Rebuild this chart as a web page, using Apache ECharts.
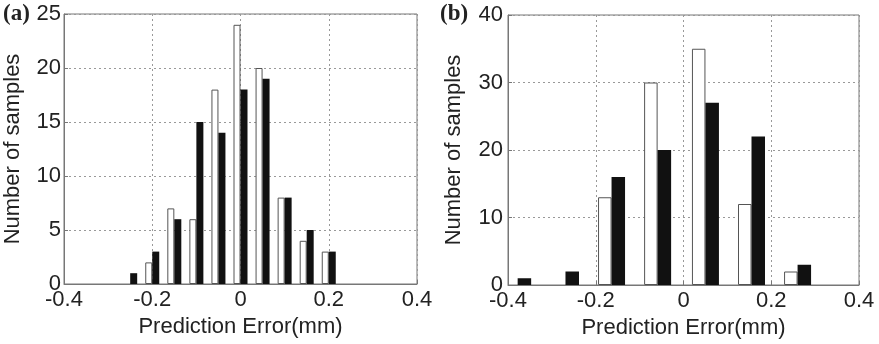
<!DOCTYPE html>
<html>
<head>
<meta charset="utf-8">
<script src="https://cdn.jsdelivr.net/npm/echarts@6/dist/echarts.min.js"></script>
<style>html,body{margin:0;padding:0;background:#fff;}#c{width:879px;height:344px;}</style>
</head>
<body>
<div id="c"></div>
<script>
// ---- data ----
const binCentersA = [-0.25, -0.2, -0.15, -0.1, -0.05, 0, 0.05, 0.1, 0.15, 0.2];
const whiteA = [0, 2, 7, 6, 18, 24, 20, 8, 4, 3];
const blackA = [1, 3, 6, 15, 14, 18, 19, 8, 5, 3];

const binCentersB = [-0.378, -0.269, -0.164, -0.059, 0.05, 0.155, 0.26];
const whiteB = [0, 0, 13, 30, 35, 12, 2];
const blackB = [1, 2, 16, 20, 27, 22, 3];

const xTickValues = [-0.4, -0.2, 0, 0.2, 0.4];
const xTickLabels = ['-0.4', '-0.2', '0', '0.2', '0.4'];
const yTicksA = [0, 5, 10, 15, 20, 25];
const yTicksB = [0, 10, 20, 30, 40];
const panelLabels = ['(a)', '(b)'];
const xTitle = 'Prediction Error(mm)';
const yTitle = 'Number of samples';

// ---- chart ----
const FONT = '"Liberation Sans", Arial, sans-serif';
const FS = 22;
const chart = echarts.init(document.getElementById('c'), null, {renderer: 'canvas'});

// empty bins (count 0) are not drawn as a rectangle
function pairs(xs, ys) { return xs.map((x, i) => [x, ys[i] === 0 ? '-' : ys[i]]); }
function xLabelFmt(v) {
  for (let i = 0; i < xTickValues.length; i++) if (Math.abs(v - xTickValues[i]) < 1e-9) return xTickLabels[i];
  return '';
}

function xAxis(gi, nameGap) {
  return {
    gridIndex: gi, type: 'value', min: -0.4, max: 0.4, interval: 0.2,
    name: xTitle, nameLocation: 'middle', nameGap: nameGap,
    nameTextStyle: {fontFamily: FONT, fontSize: FS, color: '#222'},
    axisLine: {show: true, onZero: false, lineStyle: {color: '#777', width: 1}},
    axisTick: {show: true, inside: true, length: 4, lineStyle: {color: '#777'}},
    axisLabel: {fontFamily: FONT, fontSize: FS, color: '#222', margin: 5, formatter: xLabelFmt},
    splitLine: {show: true, lineStyle: {color: '#999', type: [2, 3], width: 1}}
  };
}
function yAxis(gi, max, interval, nameGap, margin) {
  return {
    gridIndex: gi, type: 'value', min: 0, max: max, interval: interval,
    name: yTitle, nameLocation: 'middle', nameGap: nameGap,
    nameTextStyle: {fontFamily: FONT, fontSize: FS, color: '#222'},
    axisLine: {show: true, onZero: false, lineStyle: {color: '#777', width: 1}},
    axisTick: {show: true, inside: true, length: 4, lineStyle: {color: '#777'}},
    axisLabel: {fontFamily: FONT, fontSize: FS, color: '#222', margin: margin},
    splitLine: {show: true, lineStyle: {color: '#999', type: [2, 3], width: 1}}
  };
}
function barSeries(gi, xs, ys, white, w) {
  return {
    type: 'bar', xAxisIndex: gi, yAxisIndex: gi,
    data: pairs(xs, ys), barWidth: w, barGap: '0%',
    itemStyle: white ? {color: '#fff', borderColor: '#555', borderWidth: 1}
                     : {color: '#111', borderColor: '#111', borderWidth: 0},
    animation: false, silent: true
  };
}

chart.setOption({
  animation: false,
  backgroundColor: '#fff',
  grid: [
    {left: 64, top: 14, width: 353, height: 270, show: true, borderColor: '#777', borderWidth: 1, backgroundColor: 'transparent'},
    {left: 508, top: 15, width: 351, height: 270, show: true, borderColor: '#777', borderWidth: 1, backgroundColor: 'transparent'}
  ],
  xAxis: [xAxis(0, 31), xAxis(1, 31)],
  yAxis: [yAxis(0, 25, 5, 40, 3), yAxis(1, 40, 10, 43, 5)],
  series: [
    barSeries(0, binCentersA, whiteA, true, 7),
    barSeries(0, binCentersA, blackA, false, 7),
    barSeries(1, binCentersB, whiteB, true, 13.5),
    barSeries(1, binCentersB, blackB, false, 13.5)
  ],
  graphic: [
    {type: 'text', left: 3, top: 3, style: {text: panelLabels[0], font: 'bold 23px "Liberation Serif", "Times New Roman", serif', fill: '#222'}},
    {type: 'text', left: 440, top: 3, style: {text: panelLabels[1], font: 'bold 23px "Liberation Serif", "Times New Roman", serif', fill: '#222'}}
  ]
});
</script>
</body>
</html>
